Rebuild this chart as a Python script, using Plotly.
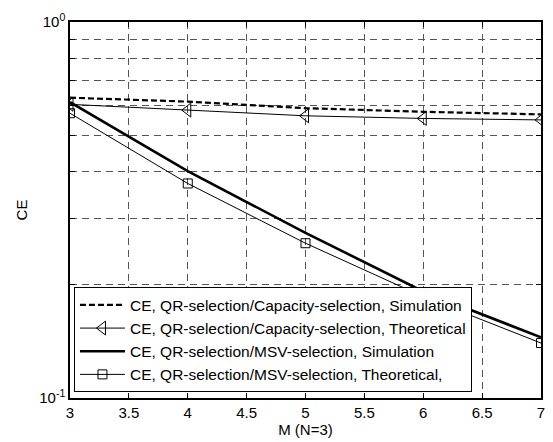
import plotly.graph_objects as go

M = [3, 4, 5, 6, 7]
ce_cap_sim = [0.629, 0.614, 0.590, 0.577, 0.568]
ce_cap_theo = [0.604, 0.583, 0.563, 0.554, 0.549]
ce_msv_sim = [0.612, 0.401, 0.275, 0.192, 0.145]
ce_msv_theo = [0.572, 0.372, 0.258, 0.186, 0.140]

names = [
    "CE, QR-selection/Capacity-selection, Simulation",
    "CE, QR-selection/Capacity-selection, Theoretical",
    "CE, QR-selection/MSV-selection, Simulation",
    "CE, QR-selection/MSV-selection, Theoretical,",
]

x_ticks = [3, 3.5, 4, 4.5, 5, 5.5, 6, 6.5, 7]
x_ticktext = ["3", "3.5", "4", "4.5", "5", "5.5", "6", "6.5", "7"]
y_ticks = [0.1, 1.0]
y_ticktext = ["10<sup>-1</sup>", "10<sup>0</sup>"]
y_minor = [0.2, 0.3, 0.4, 0.5, 0.6, 0.7, 0.8, 0.9]

FONT = "Liberation Sans, Arial, sans-serif"
GRID = "#555555"
DASH = "7px,5px"

fig = go.Figure()
fig.add_trace(go.Scatter(x=M, y=ce_cap_sim, name=names[0], mode="lines",
                         line=dict(color="black", width=2.2, dash="6px,3px")))
fig.add_trace(go.Scatter(x=M, y=ce_cap_theo, name=names[1], mode="lines+markers",
                         line=dict(color="black", width=1),
                         marker=dict(symbol="triangle-left-open", size=12, color="black",
                                     line=dict(width=1))))
fig.add_trace(go.Scatter(x=M, y=ce_msv_sim, name=names[2], mode="lines",
                         line=dict(color="black", width=2.6)))
fig.add_trace(go.Scatter(x=M, y=ce_msv_theo, name=names[3], mode="lines+markers",
                         line=dict(color="black", width=1),
                         marker=dict(symbol="square-open", size=9, color="black",
                                     line=dict(width=1))))

fig.update_layout(
    width=553, height=442,
    margin=dict(l=70, r=8, t=22, b=44),
    paper_bgcolor="white", plot_bgcolor="white",
    font=dict(family=FONT, size=15.5, color="black"),
    showlegend=True,
    legend=dict(x=0.0084, y=0.015, xanchor="left", yanchor="bottom",
                bgcolor="white", bordercolor="black", borderwidth=1,
                font=dict(size=15.5), itemwidth=45, tracegroupgap=0),
)
fig.update_xaxes(
    range=[3, 7], tickvals=x_ticks, ticktext=x_ticktext,
    showline=True, linecolor="black", linewidth=1.5, mirror="allticks",
    ticks="inside", ticklen=5, tickcolor="black",
    showgrid=True, gridcolor=GRID, griddash=DASH, gridwidth=1,
    zeroline=False, tickfont=dict(size=15),
    title=dict(text="M (N=3)", standoff=2, font=dict(size=15)),
)
fig.update_yaxes(
    type="log", range=[-1, 0], tickvals=y_ticks, ticktext=y_ticktext,
    showline=True, linecolor="black", linewidth=1.5, mirror="allticks",
    ticks="inside", ticklen=5, tickcolor="black",
    showgrid=True, gridcolor=GRID, griddash=DASH, gridwidth=1,
    minor=dict(tickvals=y_minor, ticks="inside", ticklen=5, tickcolor="black",
               showgrid=True, gridcolor=GRID, griddash=DASH, gridwidth=1),
    zeroline=False, tickfont=dict(size=15),
    title=dict(text="CE", standoff=8, font=dict(size=15)),
)
fig.write_html("out.html")
